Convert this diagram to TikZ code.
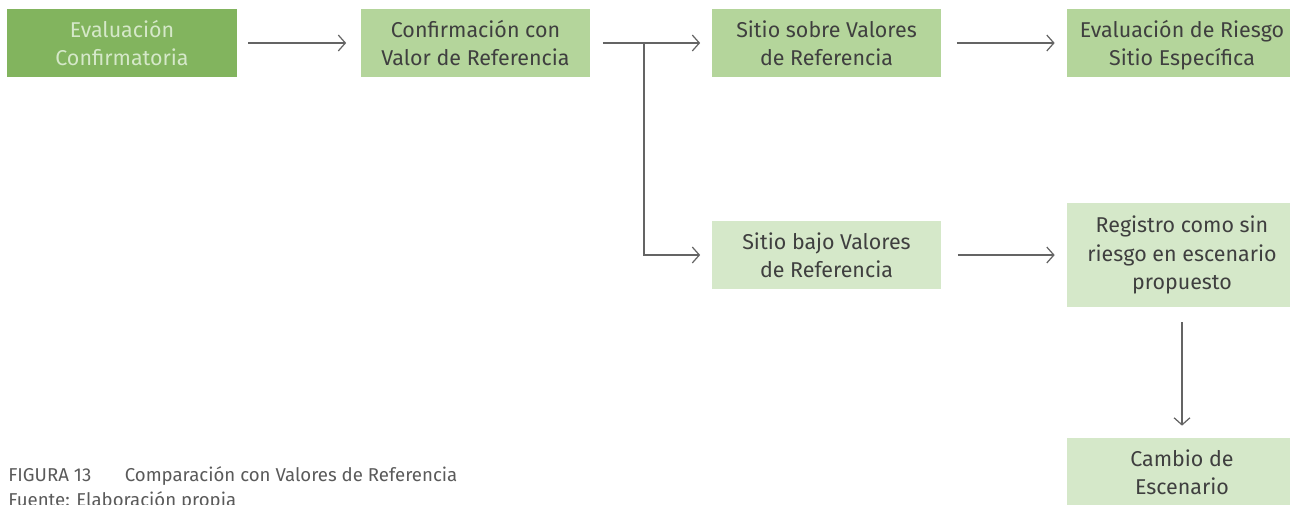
\documentclass[tikz,border=0pt]{standalone}
\usepackage{fontspec}
\setmainfont{Fira Sans}
\usepackage{xcolor}
\usetikzlibrary{arrows.meta}

\definecolor{darkgreen}{HTML}{82B45E}
\definecolor{midgreen}{HTML}{B4D59B}
\definecolor{lightgreen}{HTML}{D5E8C9}
\definecolor{textgray}{HTML}{3F3F3F}
\definecolor{linegray}{HTML}{646464}
\definecolor{capgray}{HTML}{5A5A5A}

\tikzset{
    box/.style={minimum width=4.6cm, minimum height=1.36cm, inner sep=0pt,
        align=center, text=textgray, font=\fontsize{12.2}{16.4}\selectfont,
        text height=29pt, text depth=3pt},
    arr/.style={draw=linegray, line width=0.7pt,
        -{Straight Barb[length=4pt,width=9pt]}},
    caption/.style={anchor=base west, inner sep=0pt, text=capgray,
        font=\fontsize{10.6}{14}\selectfont},
}

\begin{document}
\begin{tikzpicture}[x=0.02cm,y=-0.02cm]
    % \draw[help lines] grid (1290,504);
    \useasboundingbox[fill=white] (0,0) rectangle (1290,504);

    % Top row
    \node[box,fill=darkgreen,text=lightgreen] (EC) at (122,43) {Evaluación\\Confirmatoria};
    \node[box,fill=midgreen] (CV) at (475.5,43) {Confirmación con\\Valor de Referencia};
    \node[box,fill=midgreen] (SS) at (826.5,43) {Sitio sobre Valores\\de Referencia};
    \node[box,fill=midgreen] (ER) at (1182,43) {Evaluación de Riesgo\\Sitio Específica};

    % Lower branch
    \node[box,fill=lightgreen] (SB) at (826.5,255) {Sitio bajo Valores\\de Referencia};
    \node[box,fill=lightgreen,minimum height=2.08cm,text height=42.7pt] (RS) at (1182,255)
        {Registro como sin\\riesgo en escenario\\propuesto};
    \node[box,fill=lightgreen] (CE) at (1182,472) {Cambio de\\Escenario};

    % Connectors
    \coordinate (split) at (644,43);
    \draw[arr, shorten <=11*0.02cm, shorten >=14*0.02cm] (EC) -- (CV);
    \draw[draw=linegray, line width=0.7pt, shorten <=12*0.02cm] (CV) -- (split);
    \draw[arr, shorten >=11*0.02cm] (split) -- (SS);
    \draw[arr, shorten >=11*0.02cm] (split) |- (SB);
    \draw[arr, shorten <=15*0.02cm, shorten >=12*0.02cm] (SS) -- (ER);
    \draw[arr, shorten <=16*0.02cm, shorten >=12*0.02cm] (SB) -- (RS);
    \draw[arr, shorten <=15*0.02cm, shorten >=12*0.02cm] (RS) -- (CE);

    % Caption
    \node[caption] (cap) at (8,481) {FIGURA 13\hspace{1.8em}Comparación con Valores de Referencia};
    \node[caption] (src) at (8,506) {Fuente: Elaboración propia};
\end{tikzpicture}
\end{document}
